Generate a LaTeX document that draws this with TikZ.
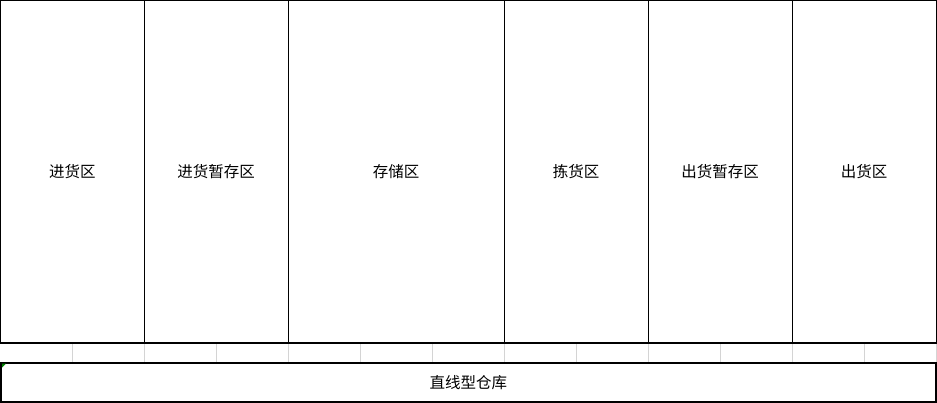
\documentclass[tikz,border=0pt]{standalone}
\usepackage{fontspec}
\setmainfont{Noto Sans CJK SC}
\definecolor{gridgray}{RGB}{212,212,212}
\definecolor{markgreen}{RGB}{0,128,0}
\begin{document}
\begin{tikzpicture}[x=1pt,y=-1pt,
		zone/.style={draw=black,line width=1pt},
		every node/.style={font=\fontsize{15.5}{18}\selectfont}]
		\useasboundingbox (0,0) rectangle (937,403);
		
		% grid of the empty row
		\draw[gridgray,line width=1pt] (72,343) -- (72,363) (144,343) -- (144,363)
			(216,343) -- (216,363) (288,343) -- (288,363) (360,343) -- (360,363)
			(432,343) -- (432,363) (504,343) -- (504,363) (576,343) -- (576,363)
			(648,343) -- (648,363) (720,343) -- (720,363) (792,343) -- (792,363)
			(864,343) -- (864,363) (936,343) -- (936,363);
		
		\draw[zone] (0.5,0.5) rectangle node (jinhuo) {进货区} (144,342.5);
		\draw[zone] (144,0.5) rectangle node (jinzancun) {进货暂存区} (288,342.5);
		\draw[zone] (288,0.5) rectangle node (cunchu) {存储区} (504,342.5);
		\draw[zone] (504,0.5) rectangle node (jianhuo) {拣货区} (648,342.5);
		\draw[zone] (648,0.5) rectangle node (chuzancun) {出货暂存区} (792,342.5);
		\draw[zone] (792,0.5) rectangle node (chuhuo) {出货区} (936,342.5);
		\draw[line width=2pt] (0,342.5) -- (937,342.5);
		
		\draw[line width=2pt] (1,362.5) rectangle node (cangku) {直线型仓库} (935.5,402);
		\fill[markgreen] (2,363.5) -- (6,363.5) -- (2,367.5) -- cycle;
	\end{tikzpicture}
\end{document}
